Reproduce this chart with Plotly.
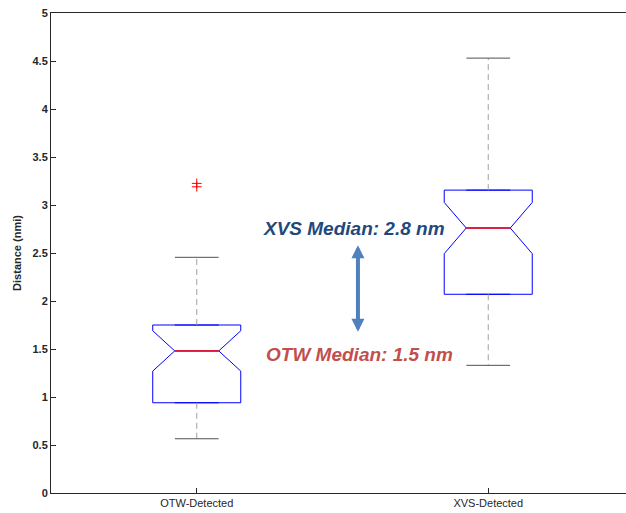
import plotly.graph_objects as go

# ---- data ----
categories = ["OTW-Detected", "XVS-Detected"]
positions = [1, 2]
q1 = [0.94, 2.07]
medians = [1.48, 2.76]
q3 = [1.75, 3.155]
lower_whisker = [0.565, 1.33]
upper_whisker = [2.455, 4.53]
notch_half = [0.21, 0.267]
outliers = [[3.19, 3.225], []]
y_ticks = [0, 0.5, 1, 1.5, 2, 2.5, 3, 3.5, 4, 4.5, 5]

xvs_label = "XVS Median: 2.8 nm"
otw_label = "OTW Median: 1.5 nm"

# ---- style ----
BOX_W = 0.302
CAP_HALF = 0.075
FONT = "Liberation Sans, Arial, Helvetica, sans-serif"

fig = go.Figure()

for i, pos in enumerate(positions):
    # whiskers (dashed gray)
    fig.add_trace(go.Scatter(
        x=[pos, pos, None, pos, pos],
        y=[q3[i], upper_whisker[i], None, q1[i], lower_whisker[i]],
        mode="lines", line=dict(color="#a0a0a0", width=1, dash="6px,4px"),
        hoverinfo="skip", showlegend=False))
    # caps
    fig.add_trace(go.Scatter(
        x=[pos - CAP_HALF, pos + CAP_HALF, None, pos - CAP_HALF, pos + CAP_HALF],
        y=[upper_whisker[i], upper_whisker[i], None, lower_whisker[i], lower_whisker[i]],
        mode="lines", line=dict(color="#505050", width=1),
        hoverinfo="skip", showlegend=False))
    # notched box
    fig.add_trace(go.Box(
        x=[pos], q1=[q1[i]], median=[medians[i]], q3=[q3[i]],
        lowerfence=[q1[i]], upperfence=[q3[i]],
        notched=True, notchspan=[notch_half[i]], notchwidth=0.25,
        width=BOX_W, line=dict(color="#0000ff", width=1),
        fillcolor="rgba(0,0,0,0)", boxpoints=False,
        hoverinfo="skip", showlegend=False))
    # median (red)
    fig.add_trace(go.Scatter(
        x=[pos - BOX_W / 4, pos + BOX_W / 4], y=[medians[i], medians[i]],
        mode="lines", line=dict(color="#ff0000", width=1.5),
        hoverinfo="skip", showlegend=False))
    # outliers
    if outliers[i]:
        fig.add_trace(go.Scatter(
            x=[pos] * len(outliers[i]), y=outliers[i], mode="markers",
            marker=dict(symbol="cross-thin", size=7,
                        line=dict(color="#ff0000", width=1)),
            hoverinfo="skip", showlegend=False))

# annotations
fig.add_annotation(x=1.541, y=2.755, xref="x", yref="y", text=xvs_label,
                   showarrow=False,
                   font=dict(family=FONT, size=19, color="#1f497d",
                             weight="bold", style="italic"))
fig.add_annotation(x=1.557, y=1.445, xref="x", yref="y", text=otw_label,
                   showarrow=False,
                   font=dict(family=FONT, size=19, color="#c0504d",
                             weight="bold", style="italic"))
fig.add_annotation(x=1.553, y=2.58, ax=1.553, ay=1.663,
                   xref="x", yref="y", axref="x", ayref="y",
                   text="", showarrow=True, arrowhead=2, startarrowhead=2,
                   arrowside="end+start", arrowwidth=4, arrowsize=0.65,
                   startarrowsize=0.65, arrowcolor="#4f81bd")

fig.update_layout(
    width=626, height=513,
    margin=dict(l=51, r=0, t=13, b=20, autoexpand=False),
    paper_bgcolor="white", plot_bgcolor="white",
    font=dict(family=FONT, size=11, color="#262626"),
    xaxis=dict(range=[0.5, 2.4726], tickvals=positions, ticktext=categories,
               automargin=False,
               showgrid=False, zeroline=False, showline=True, mirror=True,
               linecolor="#262626", linewidth=1,
               ticks="inside", ticklen=5, tickcolor="#262626",
               ticklabelstandoff=0,
               tickfont=dict(size=11, color="#262626")),
    yaxis=dict(range=[0, 5], tickvals=y_ticks, automargin=False,
               ticktext=[f"{v:g}" for v in y_ticks],
               showgrid=False, zeroline=False, showline=True, mirror=False,
               linecolor="#262626", linewidth=1,
               ticks="inside", ticklen=5, tickcolor="#262626",
               tickfont=dict(size=11, color="#262626", weight="bold"),
               title=dict(text="Distance (nmi)", standoff=8,
                          font=dict(size=11, color="#262626", weight="bold"))),
)

fig.write_html(
    "out.html",
    config={"displayModeBar": False},
    post_script="document.body.style.margin='0';document.body.style.overflow='hidden';",
)
